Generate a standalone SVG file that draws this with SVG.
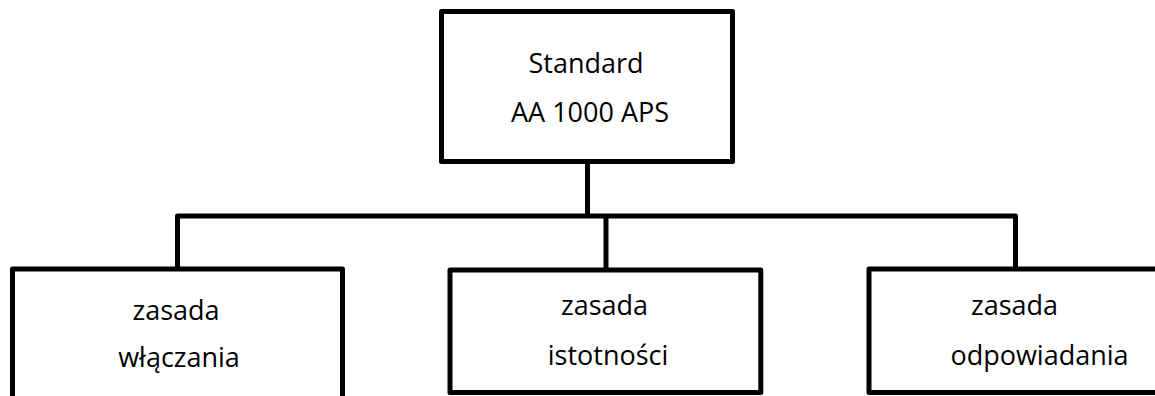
<svg xmlns="http://www.w3.org/2000/svg" width="1155" height="396" viewBox="0 0 1155 396">
<style>
.box{fill:#fff;stroke:#000;stroke-width:5;stroke-linejoin:round}
.conn{fill:none;stroke:#000;stroke-width:5;stroke-linejoin:round}
text{font-family:"Open Sans","Liberation Sans",sans-serif;font-size:27px;fill:#000;text-anchor:middle}
</style>
<rect width="1155" height="396" fill="#fff"/>
<g id="connectors">
<path class="conn" d="M587.5 161.5 V216"/>
<path class="conn" d="M177.5 269 V216 H1015.5 V269"/>
<path class="conn" d="M606 216 V270"/>
</g>
<g id="node-standard">
<rect class="box" x="441.5" y="11.5" width="291" height="150"/>
<text x="586" y="72.7">Standard</text>
<text x="590" y="121.7">AA 1000 APS</text>
</g>
<g id="node-wlaczania">
<rect class="box" x="12.5" y="269" width="330" height="150"/>
<text x="176" y="320">zasada</text>
<text x="179" y="366.7">włączania</text>
</g>
<g id="node-istotnosci">
<rect class="box" x="450" y="270" width="310.8" height="122.5"/>
<text x="604.5" y="315">zasada</text>
<text x="608" y="365">istotności</text>
</g>
<g id="node-odpowiadania">
<rect class="box" x="869" y="269" width="300" height="123.5"/>
<text x="1014.5" y="315">zasada</text>
<text x="1039.5" y="365">odpowiadania</text>
</g>
</svg>
